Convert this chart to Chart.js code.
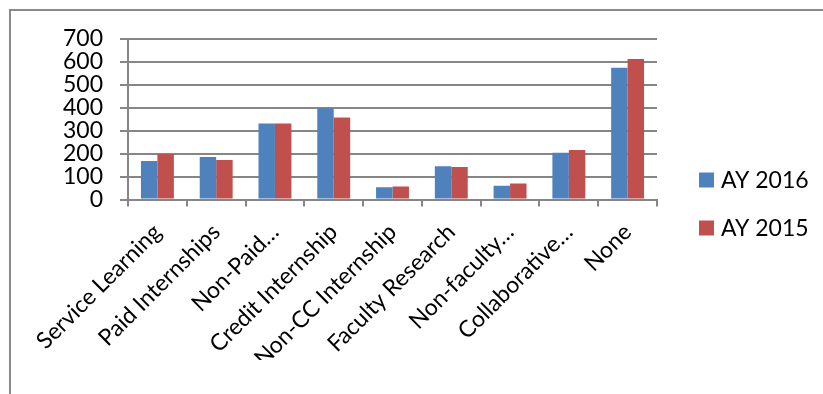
<!DOCTYPE html>
<html>
<head>
<meta charset="utf-8">
<script src="https://cdn.jsdelivr.net/npm/chart.js@4.4.0/dist/chart.umd.min.js"></script>
<style>
  html, body { margin: 0; padding: 0; background: #fff; }
  #wrap { position: absolute; left: 0; top: 0; width: 823px; height: 394px; }
  #frame { position: absolute; left: 9px; top: 9px; width: 900px; height: 500px;
           border-left: 2px solid #8a8a8a; border-top: 2px solid #8a8a8a; }
</style>
</head>
<body>
<div id="frame"></div>
<div id="wrap"><canvas id="c" width="823" height="394"></canvas></div>
<script>
const categories = ["Service Learning", "Paid Internships", "Non-Paid…", "Credit Internship",
  "Non-CC Internship", "Faculty Research", "Non-faculty…", "Collaborative…", "None"];
const seriesNames = ["AY 2016", "AY 2015"];
const ay2016 = [168, 185, 332, 398, 53, 145, 60, 204, 575];
const ay2015 = [198, 172, 331, 358, 57, 142, 70, 216, 613];
const yMin = 0, yMax = 700, yStep = 100;
const colors = ["#4F81BD", "#C0504D"];

const FONT = "Lato";
const grey = "#868686";

const customLegend = {
  id: "customLegend",
  afterDraw(chart) {
    const ctx = chart.ctx;
    ctx.save();
    ctx.font = "23px " + FONT;
    ctx.textBaseline = "middle";
    ctx.textAlign = "left";
    chart.data.datasets.forEach((ds, i) => {
      const y = 180 + i * 48;
      ctx.fillStyle = ds.backgroundColor;
      ctx.fillRect(699, y - 7.5, 15, 15);
      ctx.fillStyle = "#000";
      ctx.fillText(ds.label, 721, y + 1);
    });
    ctx.restore();
  }
};

new Chart(document.getElementById("c"), {
  type: "bar",
  data: {
    labels: categories,
    datasets: [
      { label: seriesNames[0], data: ay2016, backgroundColor: colors[0] },
      { label: seriesNames[1], data: ay2015, backgroundColor: colors[1] }
    ]
  },
  options: {
    responsive: false,
    animation: false,
    devicePixelRatio: 1,
    layout: { padding: { left: 46, right: 166, top: 39, bottom: 34 } },
    datasets: { bar: { categoryPercentage: 0.56, barPercentage: 1.0 } },
    plugins: { legend: { display: false }, tooltip: { enabled: false } },
    scales: {
      x: {
        offset: true,
        grid: { display: true, drawOnChartArea: false, drawTicks: true, tickLength: 7,
                color: grey, lineWidth: 2, offset: true },
        border: { display: true, color: grey, width: 2 },
        ticks: { autoSkip: false, minRotation: 45, maxRotation: 45, padding: 12,
                 color: "#000", font: { family: FONT, size: 23 } }
      },
      y: {
        min: yMin, max: yMax,
        grid: { color: grey, lineWidth: 2, tickLength: 8, drawTicks: true },
        border: { display: true, color: grey, width: 2 },
        ticks: { stepSize: yStep, autoSkip: false, padding: 17, color: "#000",
                 font: { family: FONT, size: 23 } }
      }
    }
  },
  plugins: [customLegend]
});
</script>
</body>
</html>
